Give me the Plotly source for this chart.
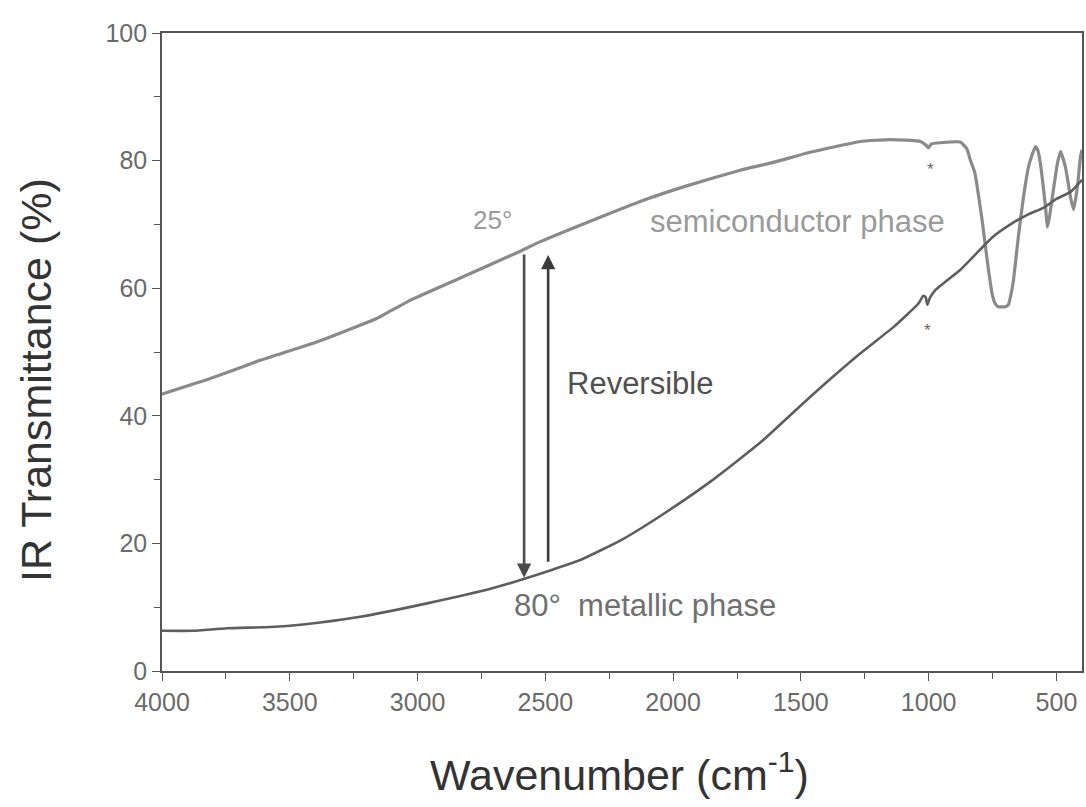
import plotly.graph_objects as go

# IR transmittance spectra of the film at two temperatures
wn_25 = [4000, 3800, 3616, 3400, 3225, 3158, 3029, 2833, 2598, 2520, 2300, 2129,
         1950, 1737, 1600, 1475, 1267, 1150, 1032, 1010, 1001, 990, 954, 876,
         850, 837, 820, 810, 791, 771, 752, 740, 727, 700, 688, 678, 668, 649,
         629, 610, 602, 582, 572, 563, 543, 535, 526, 516, 496, 484, 465, 445,
         433, 418, 406, 400]
t_25 = [43.4, 46.0, 48.7, 51.5, 54.2, 55.3, 58.1, 61.6, 65.8, 67.3, 70.9, 73.6,
        76.0, 78.5, 79.8, 81.2, 83.0, 83.3, 83.0, 82.4, 82.0, 82.6, 82.8, 82.9,
        81.8, 80.1, 78.2, 75.9, 70.7, 64.4, 59.2, 57.6, 57.1, 57.1, 57.4, 59.0, 61.3, 68.1,
        74.3, 78.9, 80.1, 82.2, 81.5, 79.6, 72.8, 69.6, 71.5, 74.3, 79.6, 81.4, 79.0, 74.3,
        72.3, 75.9, 80.6, 81.7]

wn_80 = [4000, 3880, 3746, 3577, 3448, 3225, 2963, 2704, 2508, 2442, 2363, 2200,
         2050, 1850, 1659, 1463, 1267, 1138, 1040, 1021, 1012, 1005, 995, 974,
         876, 800, 747, 680, 614, 551, 500, 445, 400]
t_80 = [6.3, 6.3, 6.7, 6.9, 7.3, 8.5, 10.6, 13.0, 15.4, 16.3, 17.4, 20.6,
        24.3, 29.8, 35.8, 43.0, 49.8, 53.9, 57.6, 58.8, 58.6, 57.4, 58.5, 59.7,
        62.9, 66.0, 68.1, 70.0, 71.5, 72.6, 74.0, 75.1, 77.0]

x_ticks = [4000, 3500, 3000, 2500, 2000, 1500, 1000, 500]
y_ticks = [0, 20, 40, 60, 80, 100]

FONT = "Arial, Liberation Sans, sans-serif"

fig = go.Figure()
fig.add_trace(go.Scatter(x=wn_25, y=t_25, mode="lines",
                         line=dict(color="#8a8a8a", width=3.2, shape="spline", smoothing=0.4),
                         showlegend=False))
fig.add_trace(go.Scatter(x=wn_80, y=t_80, mode="lines",
                         line=dict(color="#5e5e5e", width=2.6, shape="spline", smoothing=0.5),
                         showlegend=False))

annotations = [
    dict(x=2708, y=70.7, text="25°", font=dict(size=26, color="#9a9a9a")),
    dict(x=1514, y=70.4, text="semiconductor phase", font=dict(size=31, color="#9a9a9a")),
    dict(x=2129, y=45.1, text="Reversible", font=dict(size=31, color="#505050")),
    dict(x=2109, y=10.3, text="80°  metallic phase", font=dict(size=31, color="#707070")),
    dict(x=993, y=78.6, text="*", font=dict(size=17, color="#666666")),
    dict(x=1005, y=53.4, text="*", font=dict(size=17, color="#666666")),
]
for a in annotations:
    a.update(xref="x", yref="y", showarrow=False, font=dict(family=FONT, **a["font"]))
    fig.add_annotation(**a)

# reversible transition arrows
fig.add_annotation(x=2583, y=14.6, ax=2583, ay=65.5, xref="x", yref="y", axref="x", ayref="y",
                   text="", showarrow=True, arrowhead=2, arrowsize=1.1, arrowwidth=2.6,
                   arrowcolor="#4a4a4a")
fig.add_annotation(x=2489, y=65.2, ax=2489, ay=16.9, xref="x", yref="y", axref="x", ayref="y",
                   text="", showarrow=True, arrowhead=2, arrowsize=1.1, arrowwidth=2.6,
                   arrowcolor="#3a3a3a")

# axis titles
fig.add_annotation(x=-0.137, y=0.456, xref="paper", yref="paper", text="IR Transmittance (%)",
                   textangle=-90, showarrow=False, xanchor="center", yanchor="middle",
                   font=dict(family=FONT, size=43, color="#333333"))
fig.add_annotation(x=0.497, y=-0.158, xref="paper", yref="paper",
                   text="Wavenumber (cm<sup>-1</sup>)", showarrow=False,
                   xanchor="center", yanchor="middle",
                   font=dict(family=FONT, size=43, color="#333333"))

axis_common = dict(showline=True, mirror=True, linecolor="#555555", linewidth=1.6,
                   showgrid=False, zeroline=False, ticks="outside", ticklen=8,
                   tickwidth=1.4, tickcolor="#555555",
                   tickfont=dict(family=FONT, size=25, color="#6a6a6a"))

fig.update_xaxes(range=[4000, 400], tickvals=x_ticks, ticktext=[str(v) for v in x_ticks],
                 minor=dict(dtick=250, ticks="outside", ticklen=6, tickcolor="#555555"),
                 **axis_common)
fig.update_yaxes(range=[0, 100], tickvals=y_ticks, ticktext=[str(v) for v in y_ticks],
                 minor=dict(dtick=10, ticks="outside", ticklen=6, tickcolor="#555555"),
                 **axis_common)

fig.update_layout(width=1086, height=807, plot_bgcolor="white", paper_bgcolor="white",
                  margin=dict(l=162, r=4, t=33, b=136, autoexpand=False))

fig.write_html("out.html")
